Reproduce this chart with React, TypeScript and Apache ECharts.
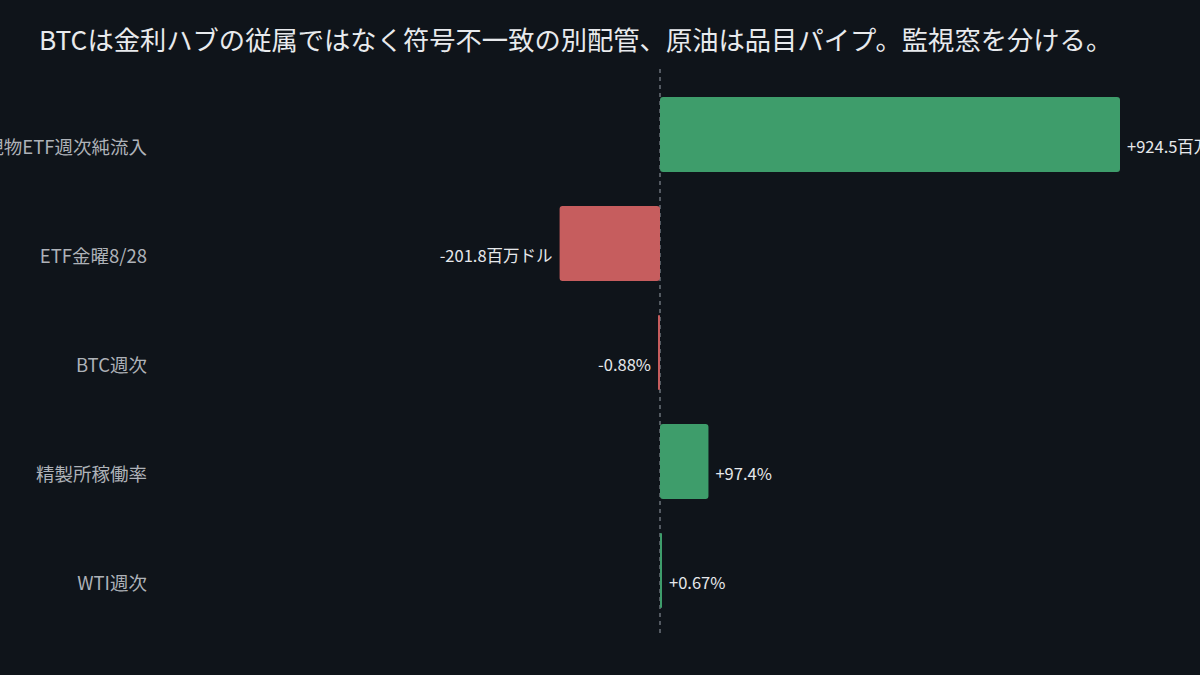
import React, { useEffect, useRef } from "react";
import * as echarts from "echarts";

const titleText = "BTCは金利ハブの従属ではなく符号不一致の別配管、原油は品目パイプ。監視窓を分ける。";
const categories = ["現物ETF週次純流入", "ETF金曜8/28", "BTC週次", "精製所稼働率", "WTI週次"];
const values = [924.5, -201.8, -0.88, 97.4, 0.67];
const valueLabels = ["+924.5百万ドル", "-201.8百万ドル", "-0.88%", "+97.4%", "+0.67%"];
const axisMax = 1016.95;

const BG = "#0f141a";
const GREEN = "#3e9d6b";
const RED = "#c65d5e";
const FONT = "'Noto Sans CJK JP', 'Noto Sans', sans-serif";

export default function App() {
  const ref = useRef<HTMLDivElement>(null);
  useEffect(() => {
    document.body.style.margin = "0";
    document.body.style.background = BG;
    const chart = echarts.init(ref.current!, null, { renderer: "svg" });
    const gridLeft = 154;
    const gridWidth = 1012;
    chart.setOption({
      animation: false,
      backgroundColor: BG,
      textStyle: { fontFamily: FONT },
      title: {
        text: titleText,
        left: 34,
        top: 20,
        textStyle: { color: "#e8eaed", fontSize: 26.3, fontWeight: "normal", fontFamily: FONT },
      },
      grid: [
        { left: gridLeft, width: gridWidth, top: 80, height: 545, outerBoundsMode: "none", containLabel: false },
        { left: gridLeft, width: gridWidth, top: 69, height: 564, outerBoundsMode: "none", containLabel: false },
      ],
      xAxis: [
        { type: "value", gridIndex: 0, min: -axisMax, max: axisMax, show: false, splitLine: { show: false } },
        { type: "value", gridIndex: 1, min: -axisMax, max: axisMax, show: false, splitLine: { show: false } },
      ],
      yAxis: [
        {
          type: "category",
          gridIndex: 0,
          data: categories,
          inverse: true,
          axisLine: { show: false, onZero: false },
          axisTick: { show: false },
          axisLabel: {
            color: "#aeb2b8",
            fontSize: 18.5,
            margin: 7,
            fontFamily: FONT,
            verticalAlign: "top",
            lineHeight: 22,
          },
        },
        { type: "value", gridIndex: 1, min: 0, max: 1, show: false, splitLine: { show: false } },
      ],
      series: [
        {
          type: "bar",
          xAxisIndex: 0,
          yAxisIndex: 0,
          barCategoryGap: "31%",
          barMinHeight: 2,
          data: values.map((v, i) => ({
            value: v,
            itemStyle: { color: v >= 0 ? GREEN : RED, borderRadius: 3 },
            label: {
              show: true,
              position: v >= 0 ? "right" : "left",
              distance: 7,
              offset: [0, 11],
              formatter: valueLabels[i],
              color: "#e6e8eb",
              fontSize: 16.5,
              fontFamily: FONT,
            },
          })),
          z: 3,
        },
        {
          type: "line",
          xAxisIndex: 1,
          yAxisIndex: 1,
          data: [[0, 0], [0, 1]],
          symbol: "none",
          lineStyle: { color: "#6b717a", width: 1.5, type: [4, 4] },
          z: 1,
        },
      ],
    });
    return () => chart.dispose();
  }, []);
  return <div ref={ref} style={{ width: 1200, height: 675 }} />;
}
